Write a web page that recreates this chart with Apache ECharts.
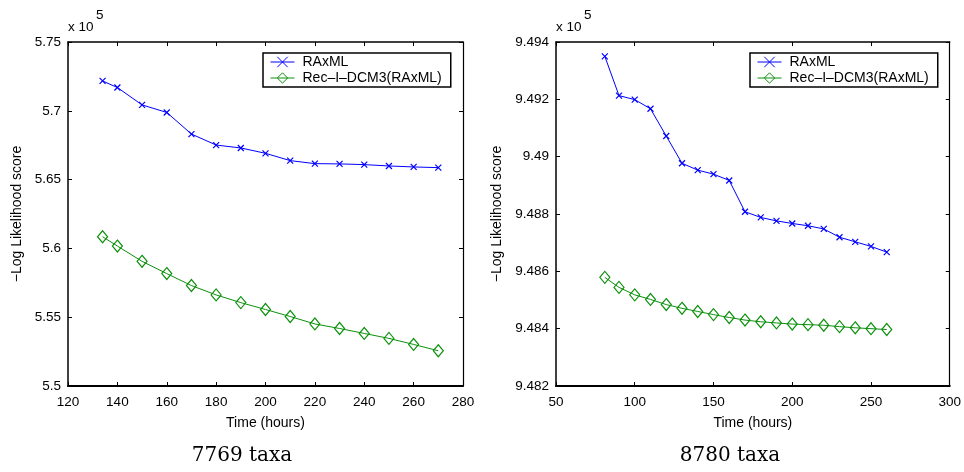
<!DOCTYPE html>
<html>
<head>
<meta charset="utf-8">
<script src="https://cdn.jsdelivr.net/npm/echarts@6/dist/echarts.min.js"></script>
<style>html,body{margin:0;padding:0;background:#fff}#c{width:964px;height:472px}</style>
</head>
<body>
<div id="c"></div>
<script>
// ---- data ----
const seriesNames = ['RAxML', 'Rec\u2013I\u2013DCM3(RAxML)'];
const captions = ['7769 taxa', '8780 taxa'];
const yAxisTitle = '\u2212Log Likelihood score';
const xAxisTitle = 'Time (hours)';

const timeLeft = [134,140,150,160,170,180,190,200,210,220,230,240,250,260,270];
const raxmlLeft = [572170,571690,570430,569880,568310,567510,567300,566910,566380,566160,566140,566090,565990,565920,565870];
const recLeft = [560850,560170,559060,558170,557300,556620,556060,555560,555050,554510,554180,553820,553460,553020,552560];

const timeRight = [81,90,100,110,120,130,140,150,160,170,180,190,200,210,220,230,240,250,260];
const raxmlRight = [949350,949213,949199,949167,949072,948977,948953,948939,948917,948808,948788,948776,948767,948759,948748,948719,948703,948687,948667];
const recRight = [948579,948544,948518,948502,948484,948471,948460,948449,948439,948430,948424,948420,948416,948414,948412,948407,948403,948400,948397];

const xTicksLeft = {min:120, max:280, interval:20};
const xTicksRight = {min:50, max:300, interval:50};
const yTicksLeft = {min:550000, max:575000, interval:5000};
const yTicksRight = {min:948200, max:949400, interval:200};

// ---- chart ----
const FONT = '"Liberation Sans", Arial, Helvetica, sans-serif';
const BLUE = '#0000ff';
const GREEN = '#0c900c';
const X_SYMBOL = 'path://M0,0L10,10M10,0L0,10';

function pairs(xs, ys){ return xs.map((x,i)=>[x, ys[i]]); }
const fmtY = v => String(+(v/1e5).toFixed(4));

function xAxes(gi, t){
  return [
    {gridIndex:gi, type:'value', position:'bottom', min:t.min, max:t.max, interval:t.interval,
     name:xAxisTitle, nameLocation:'middle', nameGap:30,
     nameTextStyle:{fontFamily:FONT, fontSize:14, color:'#000'},
     axisLine:{show:true, onZero:false, lineStyle:{color:'#000', width:2}},
     axisTick:{show:true, inside:true, length:4, lineStyle:{color:'#000'}},
     axisLabel:{show:true, margin:9, color:'#000', fontFamily:FONT, fontSize:13.5},
     splitLine:{show:false}},
    {gridIndex:gi, type:'value', position:'top', min:t.min, max:t.max, interval:t.interval,
     axisLine:{show:true, onZero:false, lineStyle:{color:'#000', width:1.5}},
     axisTick:{show:true, inside:true, length:4, lineStyle:{color:'#000'}},
     axisLabel:{show:false}, splitLine:{show:false}}
  ];
}
function yAxes(gi, t, gap){
  return [
    {gridIndex:gi, type:'value', position:'left', min:t.min, max:t.max, interval:t.interval,
     name:yAxisTitle, nameLocation:'middle', nameGap:gap,
     nameTextStyle:{fontFamily:FONT, fontSize:14, color:'#000'},
     axisLine:{show:true, onZero:false, lineStyle:{color:'#000', width:1.5}},
     axisTick:{show:true, inside:true, length:4, lineStyle:{color:'#000'}},
     axisLabel:{show:true, margin:7, color:'#000', fontFamily:FONT, fontSize:13.5, formatter:fmtY},
     splitLine:{show:false}},
    {gridIndex:gi, type:'value', position:'right', min:t.min, max:t.max, interval:t.interval,
     axisLine:{show:true, onZero:false, lineStyle:{color:'#000', width:1.2}},
     axisTick:{show:true, inside:true, length:4, lineStyle:{color:'#000'}},
     axisLabel:{show:false}, splitLine:{show:false}}
  ];
}
function raxmlSeries(xi, yi, data){
  return {name:seriesNames[0], type:'line', xAxisIndex:xi, yAxisIndex:yi, data:data,
    symbol:X_SYMBOL, symbolSize:6, showAllSymbol:true, animation:false,
    lineStyle:{color:BLUE, width:1},
    itemStyle:{color:BLUE, borderColor:BLUE, borderWidth:1.2}};
}
function recSeries(xi, yi, data){
  return {name:seriesNames[1], type:'line', xAxisIndex:xi, yAxisIndex:yi, data:data,
    symbol:'diamond', symbolSize:[10,12], showAllSymbol:true, animation:false,
    lineStyle:{color:GREEN, width:1},
    itemStyle:{color:'rgba(0,0,0,0)', borderColor:GREEN, borderWidth:1.2}};
}
function legendAt(left){
  return {left:left, top:53, orient:'vertical', data:seriesNames,
    borderColor:'#000', borderWidth:1.5, padding:[2,9,2,7],
    itemWidth:24, itemHeight:13, itemGap:2,
    lineStyle:{width:1},
    itemStyle:{borderWidth:1},
    textStyle:{fontFamily:FONT, fontSize:14, color:'#000', padding:[0,0,0,3]}};
}

const chart = echarts.init(document.getElementById('c'), null, {renderer:'canvas'});
chart.setOption({
  animation:false,
  backgroundColor:'#fff',
  grid:[
    {left:68, top:42, width:395, height:344},
    {left:556, top:42, width:394, height:344}
  ],
  xAxis:[...xAxes(0, xTicksLeft), ...xAxes(1, xTicksRight)],
  yAxis:[...yAxes(0, yTicksLeft, 44), ...yAxes(1, yTicksRight, 52)],
  legend:[legendAt(263), legendAt(750)],
  series:[
    raxmlSeries(0,0,pairs(timeLeft, raxmlLeft)),
    recSeries(0,0,pairs(timeLeft, recLeft)),
    raxmlSeries(2,2,pairs(timeRight, raxmlRight)),
    recSeries(2,2,pairs(timeRight, recRight))
  ],
  graphic:[
    {type:'text', left:68, top:20, style:{text:'x 10', fontFamily:FONT, fontSize:13.5, fill:'#000'}},
    {type:'text', left:96, top:8, style:{text:'5', fontFamily:FONT, fontSize:13.5, fill:'#000'}},
    {type:'text', left:556, top:20, style:{text:'x 10', fontFamily:FONT, fontSize:13.5, fill:'#000'}},
    {type:'text', left:584, top:8, style:{text:'5', fontFamily:FONT, fontSize:13.5, fill:'#000'}},
    {type:'text', x:242, y:456, style:{text:captions[0], fontFamily:'"DejaVu Serif", serif', fontSize:20, fill:'#000', align:'center', verticalAlign:'middle'}},
    {type:'text', x:730, y:456, style:{text:captions[1], fontFamily:'"DejaVu Serif", serif', fontSize:20, fill:'#000', align:'center', verticalAlign:'middle'}}
  ]
});
</script>
</body>
</html>
